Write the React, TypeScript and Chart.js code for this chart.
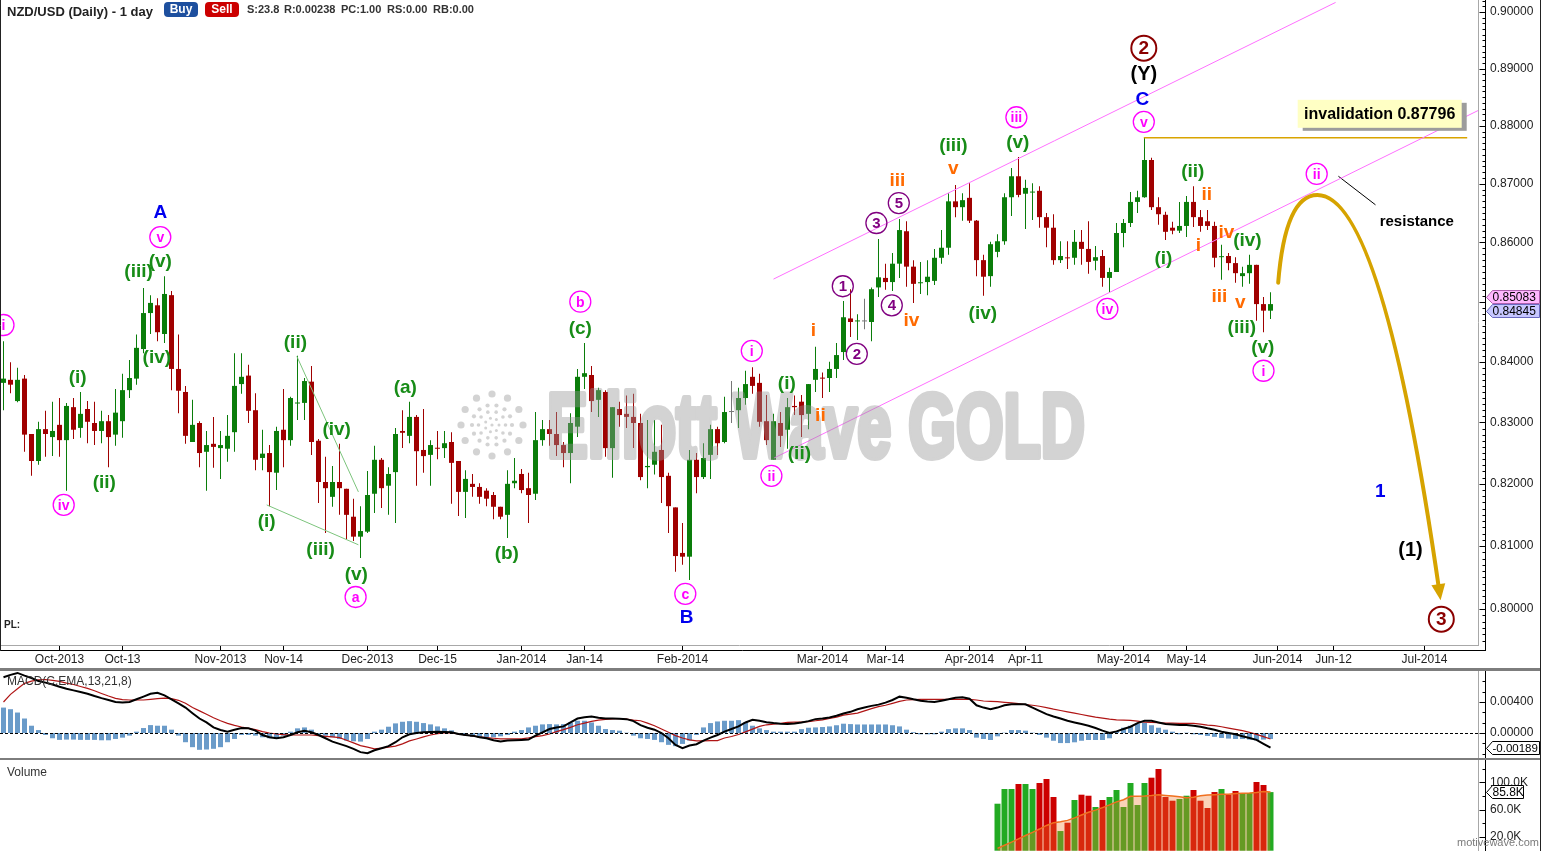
import React, { useEffect, useRef } from 'react';
import Chart from 'chart.js/auto';

const FONT = '"Liberation Sans", Arial, Helvetica, sans-serif';
const GREEN = '#0a7d0a';
const RED = '#a00000';
const GRAY = '#777777';

// ---- daily candles NZD/USD (trading days from 19 Sep 2013 to 30 May 2014) ----
const open = [
  0.8365, 0.8370, 0.8335, 0.8372, 0.8281, 0.8237, 0.8289, 0.8276, 0.8296, 0.8271,
  0.8325, 0.8291, 0.8322, 0.8299, 0.8286, 0.8302, 0.8280, 0.8302, 0.8353, 0.8372,
  0.8421, 0.8481, 0.8494, 0.8446, 0.8511, 0.8388, 0.8350, 0.8268, 0.8299, 0.8252,
  0.8265, 0.8258, 0.8257, 0.8284, 0.8363, 0.8377, 0.8320, 0.8242, 0.8250, 0.8218,
  0.8288, 0.8271, 0.8331, 0.8332, 0.8367, 0.8270, 0.8203, 0.8179, 0.8203, 0.8192,
  0.8147, 0.8115, 0.8123, 0.8184, 0.8239, 0.8197, 0.8219, 0.8286, 0.8278, 0.8309,
  0.8255, 0.8247, 0.8258, 0.8258, 0.8268, 0.8237, 0.8187, 0.8200, 0.8195, 0.8189,
  0.8182, 0.8163, 0.8150, 0.8201, 0.8216, 0.8193, 0.8184, 0.8271, 0.8289, 0.8281,
  0.8263, 0.8250, 0.8293, 0.8375, 0.8378, 0.8337, 0.8350, 0.8258, 0.8322, 0.8314,
  0.8309, 0.8299, 0.8227, 0.8231, 0.8255, 0.8213, 0.8162, 0.8089, 0.8083, 0.8239,
  0.8211, 0.8247, 0.8289, 0.8268, 0.8317, 0.8320, 0.8340, 0.8375, 0.8365, 0.8302,
  0.8239, 0.8299, 0.8288, 0.8327, 0.8334, 0.8314, 0.8370, 0.8373, 0.8373, 0.8388,
  0.8416, 0.8472, 0.8467, 0.8467, 0.8466, 0.8524, 0.8540, 0.8533, 0.8564, 0.8619,
  0.8559, 0.8531, 0.8533, 0.8535, 0.8574, 0.8591, 0.8670, 0.8660, 0.8676, 0.8637,
  0.8570, 0.8543, 0.8584, 0.8602, 0.8677, 0.8713, 0.8683, 0.8685, 0.8688, 0.8643,
  0.8625, 0.8570, 0.8574, 0.8574, 0.8601, 0.8589, 0.8569, 0.8577, 0.8540, 0.8550,
  0.8616, 0.8633, 0.8669, 0.8677, 0.8741, 0.8660, 0.8647, 0.8625, 0.8620, 0.8628,
  0.8669, 0.8643, 0.8636, 0.8628, 0.8575, 0.8577, 0.8565, 0.8543, 0.8548, 0.8562,
  0.8496, 0.8485,
];
const high = [
  0.8434, 0.8399, 0.8390, 0.8378, 0.8281, 0.8301, 0.8319, 0.8334, 0.8340, 0.8332,
  0.8340, 0.8350, 0.8335, 0.8334, 0.8319, 0.8312, 0.8355, 0.8380, 0.8403, 0.8445,
  0.8523, 0.8511, 0.8506, 0.8543, 0.8518, 0.8445, 0.8360, 0.8337, 0.8302, 0.8286,
  0.8309, 0.8286, 0.8312, 0.8414, 0.8414, 0.8395, 0.8348, 0.8288, 0.8263, 0.8293,
  0.8355, 0.8342, 0.8410, 0.8373, 0.8393, 0.8273, 0.8244, 0.8229, 0.8265, 0.8192,
  0.8176, 0.8164, 0.8221, 0.8262, 0.8242, 0.8227, 0.8291, 0.8320, 0.8334, 0.8312,
  0.8322, 0.8271, 0.8286, 0.8286, 0.8284, 0.8237, 0.8222, 0.8216, 0.8201, 0.8193,
  0.8187, 0.8163, 0.8222, 0.8242, 0.8224, 0.8218, 0.8317, 0.8304, 0.8304, 0.8317,
  0.8268, 0.8315, 0.8388, 0.8431, 0.8393, 0.8357, 0.8353, 0.8325, 0.8334, 0.8344,
  0.8347, 0.8314, 0.8304, 0.8304, 0.8296, 0.8218, 0.8162, 0.8137, 0.8255, 0.8250,
  0.8266, 0.8296, 0.8293, 0.8342, 0.8368, 0.8357, 0.8385, 0.8391, 0.8380, 0.8345,
  0.8314, 0.8317, 0.8340, 0.8344, 0.8345, 0.8363, 0.8425, 0.8382, 0.8400, 0.8431,
  0.8501, 0.8521, 0.8479, 0.8505, 0.8524, 0.8606, 0.8564, 0.8582, 0.8640, 0.8636,
  0.8570, 0.8567, 0.8570, 0.8589, 0.8621, 0.8684, 0.8698, 0.8684, 0.8701, 0.8638,
  0.8579, 0.8601, 0.8614, 0.8684, 0.8727, 0.8746, 0.8707, 0.8701, 0.8696, 0.8650,
  0.8648, 0.8602, 0.8602, 0.8621, 0.8621, 0.8636, 0.8594, 0.8587, 0.8557, 0.8633,
  0.8640, 0.8686, 0.8688, 0.87796, 0.8745, 0.8677, 0.8652, 0.8635, 0.8669, 0.8679,
  0.8696, 0.8655, 0.8655, 0.8635, 0.8596, 0.8582, 0.8575, 0.8559, 0.8579, 0.8562,
  0.8508, 0.8516,
];
const low = [
  0.8320, 0.8348, 0.8333, 0.8252, 0.8213, 0.8231, 0.8244, 0.8245, 0.8244, 0.8189,
  0.8273, 0.8275, 0.8266, 0.8263, 0.8266, 0.8227, 0.8262, 0.8275, 0.8340, 0.8362,
  0.8414, 0.8446, 0.8434, 0.8431, 0.8353, 0.8315, 0.8265, 0.8268, 0.8227, 0.8189,
  0.8226, 0.8208, 0.8236, 0.8252, 0.8347, 0.8299, 0.8222, 0.8222, 0.8164, 0.8190,
  0.8227, 0.8262, 0.8304, 0.8304, 0.8247, 0.8169, 0.8121, 0.8163, 0.8150, 0.8111,
  0.8108, 0.8081, 0.8121, 0.8153, 0.8161, 0.8150, 0.8137, 0.8258, 0.8266, 0.8197,
  0.8218, 0.8197, 0.8240, 0.8242, 0.8168, 0.8148, 0.8145, 0.8179, 0.8168, 0.8164,
  0.8143, 0.8143, 0.8113, 0.8193, 0.8185, 0.8137, 0.8174, 0.8262, 0.8262, 0.8245,
  0.8227, 0.8201, 0.8276, 0.8355, 0.8317, 0.8309, 0.8244, 0.8210, 0.8293, 0.8291,
  0.8258, 0.8206, 0.8193, 0.8215, 0.8169, 0.8121, 0.8059, 0.8070, 0.8046, 0.8185,
  0.8208, 0.8208, 0.8247, 0.8266, 0.8299, 0.8291, 0.8329, 0.8347, 0.8293, 0.8263,
  0.8239, 0.8260, 0.8257, 0.8312, 0.8276, 0.8289, 0.8350, 0.8340, 0.8350, 0.8373,
  0.8403, 0.8441, 0.8436, 0.8454, 0.8434, 0.8508, 0.8520, 0.8518, 0.8540, 0.8525,
  0.8498, 0.8513, 0.8511, 0.8528, 0.8564, 0.8579, 0.8643, 0.8637, 0.8633, 0.8543,
  0.8510, 0.8525, 0.8575, 0.8596, 0.8645, 0.8677, 0.8623, 0.8638, 0.8625, 0.8592,
  0.8562, 0.8565, 0.8555, 0.8562, 0.8562, 0.8547, 0.8553, 0.8525, 0.8516, 0.8550,
  0.8592, 0.8626, 0.8650, 0.8676, 0.8655, 0.8630, 0.8604, 0.8614, 0.8616, 0.8609,
  0.8626, 0.8618, 0.8621, 0.8558, 0.8537, 0.8553, 0.8532, 0.8525, 0.8530, 0.8468,
  0.8449, 0.8471,
];
const close = [
  0.8372, 0.8362, 0.8370, 0.8280, 0.8237, 0.8289, 0.8281, 0.8286, 0.8271, 0.8327,
  0.8288, 0.8314, 0.8301, 0.8286, 0.8302, 0.8276, 0.8316, 0.8353, 0.8373, 0.8423,
  0.8481, 0.8498, 0.8449, 0.8513, 0.8388, 0.8352, 0.8278, 0.8296, 0.8250, 0.8263,
  0.8260, 0.8263, 0.8278, 0.8360, 0.8375, 0.8319, 0.8239, 0.8249, 0.8219, 0.8286,
  0.8271, 0.8340, 0.8332, 0.8368, 0.8268, 0.8203, 0.8193, 0.8203, 0.8193, 0.8150,
  0.8115, 0.8124, 0.8182, 0.8239, 0.8193, 0.8216, 0.8281, 0.8283, 0.8309, 0.8253,
  0.8245, 0.8263, 0.8257, 0.8266, 0.8234, 0.8187, 0.8208, 0.8195, 0.8179, 0.8176,
  0.8163, 0.8147, 0.8200, 0.8205, 0.8190, 0.8182, 0.8271, 0.8289, 0.8281, 0.8263,
  0.8250, 0.8299, 0.8375, 0.8381, 0.8335, 0.8353, 0.8258, 0.8325, 0.8312, 0.8309,
  0.8299, 0.8211, 0.8229, 0.8252, 0.8211, 0.8164, 0.8084, 0.8083, 0.8239, 0.8211,
  0.8242, 0.8289, 0.8266, 0.8317, 0.8317, 0.8340, 0.8363, 0.8360, 0.8301, 0.8271,
  0.8302, 0.8278, 0.8325, 0.8325, 0.8312, 0.8363, 0.8388, 0.8372, 0.8388, 0.8411,
  0.8474, 0.8466, 0.8468, 0.8467, 0.8521, 0.8541, 0.8533, 0.8564, 0.8621, 0.8559,
  0.8530, 0.8532, 0.8542, 0.8574, 0.8591, 0.8670, 0.8660, 0.8672, 0.8637, 0.8570,
  0.8542, 0.8597, 0.8602, 0.8677, 0.8713, 0.8681, 0.8693, 0.8686, 0.8643, 0.8625,
  0.8570, 0.8577, 0.8573, 0.8601, 0.8589, 0.8567, 0.8575, 0.8540, 0.8550, 0.8616,
  0.8633, 0.8669, 0.8677, 0.8741, 0.8660, 0.8648, 0.8618, 0.8620, 0.8628, 0.8669,
  0.8643, 0.8628, 0.8628, 0.8574, 0.8576, 0.8565, 0.8548, 0.8548, 0.8562, 0.8496,
  0.8485, 0.8496,
];

// ---- MACD(C,EMA,13,21,8) ----
const macdLine = [
  0.0072, 0.0075, 0.00775, 0.0074, 0.0071, 0.0067, 0.0065, 0.00626, 0.00596, 0.0057,
  0.0055, 0.0053, 0.00507, 0.00477, 0.0045, 0.00426, 0.0040, 0.00392, 0.0040, 0.00435,
  0.0047, 0.00507, 0.0052, 0.00486, 0.00435, 0.00383, 0.00328, 0.00256, 0.00187, 0.00136,
  0.00072, 0.00038, 0.00017, 0.00043, 0.00064, 0.0006, 0.0003, -0.00026, -0.00055, -0.00068,
  -0.00055, -0.00026, 0.00009, 0.0003, 0.00009, -0.00026, -0.00068, -0.00111, -0.0014, -0.0017,
  -0.00204, -0.00247, -0.0026, -0.00222, -0.00196, -0.0017, -0.00119, -0.00055, -0.00017, 0,
  0.00009, 0.00013, 0.00017, 0.00013, 0.00009, -0.00013, -0.00026, -0.00034, -0.00055, -0.00068,
  -0.00094, -0.00111, -0.00098, -0.00094, -0.00089, -0.00085, -0.00034, 0.00009, 0.00051, 0.00072,
  0.00085, 0.00136, 0.00187, 0.00204, 0.00213, 0.00196, 0.00187, 0.00187, 0.00183, 0.00179,
  0.00153, 0.00102, 0.00068, 0.00043, 0, -0.00068, -0.00153, -0.00196, -0.00162, -0.00145,
  -0.00098, -0.0006, -0.00026, 0.00017, 0.00051, 0.00085, 0.00136, 0.0017, 0.00158, 0.0014,
  0.00128, 0.00119, 0.00115, 0.00124, 0.00136, 0.00153, 0.00179, 0.00187, 0.002, 0.00222,
  0.00251, 0.00273, 0.00307, 0.00328, 0.0035, 0.00366, 0.00392, 0.00426, 0.00469, 0.00456,
  0.00435, 0.00417, 0.00405, 0.004, 0.00417, 0.00435, 0.00456, 0.0046, 0.00443, 0.00358,
  0.00328, 0.00307, 0.00328, 0.00358, 0.0037, 0.0037, 0.0037, 0.00328, 0.00285, 0.00243,
  0.00213, 0.00187, 0.00158, 0.00136, 0.00115, 0.00094, 0.00064, 0.0003, 0, 0.00021,
  0.00051, 0.00081, 0.00128, 0.00158, 0.00158, 0.00136, 0.00115, 0.00111, 0.00102, 0.00102,
  0.00094, 0.00081, 0.0006, 0.00043, 0.00017, 0, -0.00017, -0.00043, -0.00064, -0.00089,
  -0.0014, -0.00189,
];
const signalLine = [
  0.0040, 0.00498, 0.0057, 0.0064, 0.0067, 0.00686, 0.0069, 0.0068, 0.00665, 0.00643,
  0.00626, 0.006, 0.00575, 0.00545, 0.0051, 0.00477, 0.00447, 0.0043, 0.00426, 0.00426,
  0.00426, 0.00435, 0.00443, 0.0045, 0.00443, 0.00422, 0.00383, 0.00328, 0.00285, 0.00243,
  0.00196, 0.00158, 0.00124, 0.00098, 0.00077, 0.0006, 0.00043, 0.00017, 0, -0.00013,
  -0.00021, -0.00026, -0.00026, -0.00026, -0.00026, -0.00034, -0.00043, -0.00051, -0.0006, -0.00094,
  -0.00128, -0.00162, -0.00183, -0.00204, -0.00196, -0.00183, -0.0017, -0.0014, -0.00102, -0.00077,
  -0.00051, -0.00026, -0.00009, 0, 0, -0.00013, -0.00026, -0.00038, -0.00051, -0.0006,
  -0.00068, -0.00077, -0.00077, -0.00077, -0.00077, -0.00064, -0.00047, -0.00034, -0.00013, 0.00017,
  0.00043, 0.00072, 0.00106, 0.00128, 0.00149, 0.00166, 0.00175, 0.00183, 0.00187, 0.00179,
  0.00166, 0.00158, 0.00128, 0.00094, 0.00051, 0.00009, -0.00034, -0.00064, -0.00089, -0.00102,
  -0.00102, -0.00098, -0.00098, -0.00065, -0.00045, -0.0002, 0.00015, 0.0005, 0.00085, 0.00106,
  0.00115, 0.00124, 0.00136, 0.0014, 0.0014, 0.00145, 0.00158, 0.0017, 0.00187, 0.00204,
  0.0023, 0.00243, 0.00256, 0.00285, 0.00315, 0.0034, 0.00358, 0.00383, 0.00409, 0.00426,
  0.0043, 0.00435, 0.00435, 0.00435, 0.00435, 0.00435, 0.00435, 0.00435, 0.00435, 0.00426,
  0.00413, 0.00409, 0.00405, 0.00396, 0.00388, 0.00379, 0.00366, 0.00358, 0.00345, 0.00328,
  0.00307, 0.0029, 0.00273, 0.00256, 0.00239, 0.00222, 0.00204, 0.00192, 0.00179, 0.0017,
  0.00166, 0.00162, 0.00153, 0.0014, 0.00136, 0.00132, 0.00128, 0.00128, 0.00124, 0.00124,
  0.00124, 0.00115, 0.00102, 0.00094, 0.00081, 0.00064, 0.00047, 0.0003, 0.00009, -0.00017,
  -0.00047, -0.00077,
];
const macdHist = [
  0.00328, 0.00307, 0.00264, 0.00187, 0.00094, 0.00038, -0.00026, -0.00068, -0.00089, -0.00085,
  -0.00085, -0.00089, -0.00089, -0.00089, -0.00094, -0.00094, -0.00077, -0.0006, -0.00034, 0.00017,
  0.00064, 0.00102, 0.00094, 0.00094, 0.00043, -0.00034, -0.00119, -0.00183, -0.00217, -0.00213,
  -0.00204, -0.00183, -0.00119, -0.00077, -0.00026, -0.00026, -0.00034, -0.00055, -0.00068, -0.00068,
  -0.00034, 0.00017, 0.0006, 0.00072, 0.00043, -0.00026, -0.00034, -0.00055, -0.00077, -0.00098,
  -0.00107, -0.00111, -0.00077, 0.00017, 0.00043, 0.00081, 0.00124, 0.00145, 0.00153, 0.00145,
  0.00128, 0.00111, 0.00085, 0.0006, 0.00034, -0.00017, -0.00034, -0.00051, -0.0006, -0.0006,
  -0.00055, -0.00043, -0.00026, 0.00017, 0.00038, 0.00072, 0.00094, 0.00111, 0.00115, 0.00111,
  0.00115, 0.00136, 0.00158, 0.00158, 0.00136, 0.00094, 0.00051, 0.00038, 0.0003, 0.00004,
  -0.00034, -0.00068, -0.00077, -0.00089, -0.00119, -0.00153, -0.0017, -0.00141, -0.00098, -0.00026,
  0.00072, 0.00128, 0.00149, 0.00158, 0.00158, 0.00166, 0.00136, 0.00094, 0.0006, 0.00038,
  0.00017, 0.00017, 0.00017, 0.00017, 0.0005, 0.00068, 0.00072, 0.00077, 0.00085, 0.001,
  0.0012, 0.00115, 0.0011, 0.0011, 0.0011, 0.0011, 0.0011, 0.001, 0.00085, 0.00043,
  0.0001, -0.00017, -0.00017, -0.00017, 0.00017, 0.0005, 0.0006, 0.0006, 0.00038, -0.0006,
  -0.00077, -0.0009, -0.00043, 0.00004, 0.00038, 0.00038, 0.0003, 0.00004, -0.00026, -0.0006,
  -0.001, -0.0013, -0.0013, -0.0012, -0.001, -0.0009, -0.0009, -0.0009, -0.00068, 0.00026,
  0.00068, 0.00094, 0.0012, 0.0013, 0.001, 0.00068, 0.00043, 0.00017, -0.00017, 0.00004,
  -0.00017, -0.00026, -0.00038, -0.0005, -0.00064, -0.00072, -0.00077, -0.00077, -0.00085, -0.00094,
  -0.00085, -0.00077,
];

// ---- Volume (available from trading day 142 onwards) ----
const volumeStartDay = 142;
const volume = [
  68800, 90300, 90300, 97700, 97700, 90300, 99100, 105000, 78600, 28800,
  41000, 74200, 82000, 80500, 64000, 74200, 78600, 88900, 64000, 99100,
  66900, 99100, 106900, 119600, 78600, 73200, 75700, 80500, 88900, 73200,
  62500, 85900, 90300, 82000, 87400, 84500, 84500, 100600, 96200, 85800,
];
const volumeAvg = [
  3400, 8000, 12500, 17400, 22200, 26800, 31700, 37000, 40900, 42300,
  44400, 48100, 52200, 56200, 59400, 63100, 67100, 71500, 74700, 79700,
  79600, 80000, 80800, 81900, 80900, 80100, 78900, 77700, 78200, 80400,
  81500, 82100, 82500, 82600, 83700, 84200, 84500, 85100, 86700, 86000,
];

// ---- axes ----
const xTickIndex = [8, 17, 31, 40, 52, 62, 74, 83, 97, 117, 126, 138, 146, 160, 169, 182, 190, 203];
const xTickLabels = ['Oct-2013', 'Oct-13', 'Nov-2013', 'Nov-14', 'Dec-2013', 'Dec-15', 'Jan-2014', 'Jan-14', 'Feb-2014',
  'Mar-2014', 'Mar-14', 'Apr-2014', 'Apr-11', 'May-2014', 'May-14', 'Jun-2014', 'Jun-12', 'Jul-2014'];
const priceTicks = [0.80, 0.81, 0.82, 0.83, 0.84, 0.86, 0.87, 0.88, 0.89, 0.90];
const priceMajor = [0.80, 0.81, 0.82, 0.83, 0.84, 0.85, 0.86, 0.87, 0.88, 0.89, 0.90];
const macdTicks = [0.004, 0];
const volTicks = [20000, 60000, 100000];
const volMinorTicks = [40000, 80000, 120000];

const X_MIN = -0.5;
const X_MAX = 210.643;
const P_MIN = 0.79434;
const P_MAX = 0.90213;
const MACD_MIN = -0.003226;
const MACD_MAX = 0.0080;
const VOL_MIN = -440;
const VOL_MAX = 132800;

// ---- wave count annotations: [day index, price, text, style] ----
const waveLabels = [
  [0, 0.8461, 'i', 'mc'], [22.4, 0.8609, 'v', 'mc'], [8.6, 0.8166, 'iv', 'mc'], [50.3, 0.8019, 'a', 'mc'],
  [82.4, 0.8500, 'b', 'mc'], [97.4, 0.8024, 'c', 'mc'], [106.9, 0.8418, 'i', 'mc'], [109.7, 0.8213, 'ii', 'mc'],
  [144.7, 0.8815, 'iii', 'mc'], [157.7, 0.8488, 'iv', 'mc'], [162.9, 0.8807, 'v', 'mc'], [187.6, 0.8717, 'ii', 'mc'],
  [180.0, 0.8385, 'i', 'mc'],
  [22.4, 0.8652, 'A', 'b'], [97.6, 0.7987, 'B', 'b'], [162.7, 0.8848, 'C', 'b'], [196.7, 0.8189, '1', 'b'],
  [10.6, 0.8375, '(i)', 'g'], [19.3, 0.8552, '(iii)', 'g'], [22.4, 0.8569, '(v)', 'g'], [21.9, 0.8408, '(iv)', 'g'],
  [14.4, 0.8203, '(ii)', 'g'], [41.7, 0.8433, '(ii)', 'g'], [47.6, 0.8289, '(iv)', 'g'], [37.6, 0.8140, '(i)', 'g'],
  [45.3, 0.8095, '(iii)', 'g'], [50.4, 0.8056, '(v)', 'g'], [57.4, 0.8358, '(a)', 'g'], [71.9, 0.8090, '(b)', 'g'],
  [82.4, 0.8456, '(c)', 'g'], [111.9, 0.8365, '(i)', 'g'], [113.7, 0.8250, '(ii)', 'g'], [135.7, 0.8767, '(iii)', 'g'],
  [144.9, 0.8772, '(v)', 'g'], [139.9, 0.8481, '(iv)', 'g'], [169.9, 0.8722, '(ii)', 'g'], [165.7, 0.8574, '(i)', 'g'],
  [177.7, 0.8604, '(iv)', 'g'], [176.9, 0.8458, '(iii)', 'g'], [179.9, 0.8424, '(v)', 'g'],
  [115.7, 0.8453, 'i', 'o'], [116.7, 0.8312, 'ii', 'o'], [127.7, 0.8707, 'iii', 'o'], [129.7, 0.8469, 'iv', 'o'],
  [135.7, 0.8727, 'v', 'o'], [171.9, 0.8683, 'ii', 'o'], [170.7, 0.8596, 'i', 'o'], [174.7, 0.8618, 'iv', 'o'],
  [173.7, 0.8510, 'iii', 'o'], [176.7, 0.8500, 'v', 'o'],
  [119.9, 0.8526, '1', 'pc'], [121.9, 0.8413, '2', 'pc'], [124.7, 0.8633, '3', 'pc'], [126.9, 0.8494, '4', 'pc'],
  [127.9, 0.8667, '5', 'pc'],
  [162.9, 0.8936, '2', 'rc'], [205.4, 0.7984, '3', 'rc'],
  [162.9, 0.8891, '(Y)', 'k'], [201.0, 0.8094, '(1)', 'k'],
];
const LABEL_STYLES = {
  mc: { color: '#ff00ff', size: 14, r: 10.5, lw: 1.3 },
  pc: { color: '#800080', size: 15, r: 10.5, lw: 1.3 },
  rc: { color: '#8b0000', size: 19, r: 12.5, lw: 2 },
  g: { color: '#178c17', size: 19 },
  o: { color: '#ff6a00', size: 19 },
  b: { color: '#0000ee', size: 19 },
  k: { color: '#000000', size: 20 },
};

const channelUpper = [{ x: 110, y: 0.8538 }, { x: 190.3, y: 0.9017 }];
const channelLower = [{ x: 110.1, y: 0.8242 }, { x: 210.7, y: 0.8827 }];
const triangleUpper = [{ x: 41.9, y: 0.8409 }, { x: 50.7, y: 0.8187 }];
const triangleLower = [{ x: 37.6, y: 0.8166 }, { x: 50.7, y: 0.8102 }];
const invalidationLevel = 0.87796;
const invalidationLine = [{ x: 162.9, y: invalidationLevel }, { x: 209.1, y: invalidationLevel }];
const resistancePointer = [{ x: 190.7, y: 0.8713 }, { x: 196.0, y: 0.8664 }];
// projected path: start, control, peak, control, target
const projection = [[182.1, 0.8532], [183.1, 0.8681], [187.7, 0.8681], [197.0, 0.8681], [205.3, 0.8014]];
const lastMarkers = [
  { v: 0.85083, bg: '#ffb8ff', border: '#b060b0' },
  { v: 0.84845, bg: '#c6c6ff', border: '#6a6ac0' },
];

Chart.defaults.font.family = FONT;

function drawTag(ctx, x0, yc, text, bg, border, w, size = 12) {
  ctx.beginPath();
  ctx.moveTo(x0, yc);
  ctx.lineTo(x0 + 6, yc - 7);
  ctx.lineTo(x0 + w, yc - 7);
  ctx.lineTo(x0 + w, yc + 6);
  ctx.lineTo(x0 + 6, yc + 6);
  ctx.closePath();
  ctx.fillStyle = bg;
  ctx.fill();
  ctx.strokeStyle = border;
  ctx.lineWidth = 1;
  ctx.stroke();
  ctx.fillStyle = '#000';
  ctx.font = `${size}px ${FONT}`;
  ctx.textAlign = 'left';
  ctx.textBaseline = 'middle';
  ctx.fillText(text, x0 + 6, yc);
}

function axisPlugin(id, majors, minors, withX) {
  return {
    id,
    afterDraw(chart) {
      const { ctx, chartArea: a } = chart;
      const ys = chart.scales.y;
      ctx.save();
      ctx.lineWidth = 1;
      ctx.strokeStyle = '#a8a8a8';
      ctx.beginPath();
      ctx.moveTo(a.right + 0.5, a.top);
      ctx.lineTo(a.right + 0.5, a.bottom);
      ctx.stroke();
      const ax = a.right + 7.5;
      ctx.strokeStyle = '#000';
      ctx.beginPath();
      ctx.moveTo(ax, a.top);
      ctx.lineTo(ax, a.bottom + (withX ? 6 : 0));
      ctx.stroke();
      ctx.beginPath();
      majors.forEach((v) => {
        const py = Math.round(ys.getPixelForValue(v)) + 0.5;
        ctx.moveTo(ax - 6, py);
        ctx.lineTo(ax, py);
      });
      minors.forEach((v) => {
        const py = Math.round(ys.getPixelForValue(v)) + 0.5;
        ctx.moveTo(ax - 3, py);
        ctx.lineTo(ax, py);
      });
      ctx.stroke();
      if (withX) {
        const xs = chart.scales.x;
        ctx.strokeStyle = '#a8a8a8';
        ctx.beginPath();
        ctx.moveTo(a.left, a.bottom + 0.5);
        ctx.lineTo(a.right + 1, a.bottom + 0.5);
        ctx.stroke();
        ctx.strokeStyle = '#000';
        ctx.beginPath();
        ctx.moveTo(a.left, a.bottom + 5.5);
        ctx.lineTo(ax, a.bottom + 5.5);
        xTickIndex.forEach((v) => {
          const px = Math.round(xs.getPixelForValue(v)) + 0.5;
          ctx.moveTo(px, a.bottom + 1);
          ctx.lineTo(px, a.bottom + 5);
        });
        ctx.stroke();
        ctx.strokeStyle = '#222';
        ctx.beginPath();
        ctx.moveTo(0.5, a.top);
        ctx.lineTo(0.5, a.bottom + 6);
        ctx.stroke();
      }
      ctx.restore();
    },
  };
}

const mainDecor = {
  id: 'mainDecor',
  afterDatasetsDraw(chart) {
    const { ctx, chartArea: a } = chart;
    const xs = chart.scales.x;
    const ys = chart.scales.y;
    const P = (i, p) => [xs.getPixelForValue(i), ys.getPixelForValue(p)];
    ctx.save();
    ctx.beginPath();
    ctx.rect(a.left, a.top, a.right - a.left, a.bottom - a.top);
    ctx.clip();

    // watermark logo + text, rendered opaque off-screen then blended once
    const off = document.createElement('canvas');
    off.width = 700;
    off.height = 140;
    const oc = off.getContext('2d');
    if (oc) {
      oc.fillStyle = 'rgb(150,150,150)';
      const lx = 52, ly = 70;
      const rings = [[31, 12, 3.6], [20, 14, 2.1], [13.5, 10, 1.8], [7, 7, 1.5], [0, 1, 1.6]];
      rings.forEach(([r, n, dr]) => {
        for (let k = 0; k < n; k++) {
          const t = (k / n) * Math.PI * 2;
          oc.beginPath();
          oc.arc(lx + r * Math.cos(t), ly + r * Math.sin(t), dr, 0, Math.PI * 2);
          oc.fill();
        }
      });
      oc.font = `bold 90px ${FONT}`;
      const wm = 'Elliott Wave GOLD';
      const w = oc.measureText(wm).width;
      oc.save();
      oc.translate(107, 102);
      oc.scale(538 / w, 1);
      oc.strokeStyle = 'rgb(150,150,150)';
      oc.lineWidth = 6;
      oc.lineJoin = 'round';
      oc.textAlign = 'left';
      oc.textBaseline = 'alphabetic';
      oc.strokeText(wm, 0, 0);
      oc.fillText(wm, 0, 0);
      oc.restore();
      ctx.save();
      ctx.globalAlpha = 0.42;
      ctx.drawImage(off, a.left + 440, a.top + 355);
      ctx.restore();
    }

    // projected path
    const [p0, c0, p1, c1, p2] = projection.map(([i, p]) => P(i, p));
    let dx = p2[0] - c1[0], dy = p2[1] - c1[1];
    const dl = Math.hypot(dx, dy);
    dx /= dl; dy /= dl;
    const ex = p2[0] - dx * 10, ey = p2[1] - dy * 10;
    ctx.strokeStyle = '#d6a300';
    ctx.lineWidth = 4;
    ctx.lineCap = 'round';
    ctx.beginPath();
    ctx.moveTo(p0[0], p0[1]);
    ctx.quadraticCurveTo(c0[0], c0[1], p1[0], p1[1]);
    ctx.quadraticCurveTo(c1[0], c1[1], ex, ey);
    ctx.stroke();
    ctx.fillStyle = '#d6a300';
    ctx.beginPath();
    ctx.moveTo(p2[0], p2[1]);
    ctx.lineTo(p2[0] - dx * 16 - dy * 7, p2[1] - dy * 16 + dx * 7);
    ctx.lineTo(p2[0] - dx * 16 + dy * 7, p2[1] - dy * 16 - dx * 7);
    ctx.closePath();
    ctx.fill();

    // invalidation box
    const [bx, by] = P(196.6, 0.8821);
    const bw = 164, bh = 28;
    ctx.fillStyle = '#9c9c9c';
    ctx.fillRect(bx - bw / 2 + 5, by - bh / 2 + 3, bw, bh);
    ctx.fillStyle = '#ffffc4';
    ctx.fillRect(bx - bw / 2, by - bh / 2, bw, bh);
    ctx.fillStyle = '#000';
    ctx.font = `bold 16px ${FONT}`;
    ctx.textAlign = 'center';
    ctx.textBaseline = 'middle';
    ctx.fillText('invalidation 0.87796', bx, by + 1);

    // resistance
    const [rx, ry] = P(201.9, 0.8635);
    ctx.font = `bold 15px ${FONT}`;
    ctx.fillText('resistance', rx, ry);

    // wave labels
    waveLabels.forEach(([i, p, t, s]) => {
      const st = LABEL_STYLES[s];
      const [px, py] = P(i, p);
      if (st.r) {
        ctx.beginPath();
        ctx.arc(px, py, st.r, 0, Math.PI * 2);
        ctx.strokeStyle = st.color;
        ctx.lineWidth = st.lw;
        ctx.stroke();
      }
      ctx.fillStyle = st.color;
      ctx.font = `bold ${st.size}px ${FONT}`;
      ctx.textAlign = 'center';
      ctx.textBaseline = 'middle';
      ctx.fillText(t, px, py + 1);
    });
    ctx.restore();

    // price tags
    ctx.save();
    lastMarkers.forEach((m) => {
      const yc = Math.round(ys.getPixelForValue(m.v)) + 0.5;
      drawTag(ctx, a.right + 8.5, yc, m.v.toFixed(5), m.bg, m.border, 53);
    });
    ctx.restore();
  },
};

const macdDecor = {
  id: 'macdDecor',
  afterDatasetsDraw(chart) {
    const { ctx, chartArea: a } = chart;
    const ys = chart.scales.y;
    ctx.save();
    const y0 = Math.round(ys.getPixelForValue(0)) + 0.5;
    ctx.strokeStyle = '#000';
    ctx.lineWidth = 1;
    ctx.setLineDash([3, 2]);
    ctx.beginPath();
    ctx.moveTo(a.left, y0);
    ctx.lineTo(a.right, y0);
    ctx.stroke();
    ctx.setLineDash([]);
    const last = macdLine[macdLine.length - 1];
    drawTag(ctx, a.right + 8.5, Math.round(ys.getPixelForValue(last)) + 0.5, last.toFixed(5), '#ffffff', '#000', 53, 11.5);
    ctx.restore();
  },
};

const volDecor = {
  id: 'volDecor',
  afterDatasetsDraw(chart) {
    const { ctx, chartArea: a } = chart;
    const ys = chart.scales.y;
    ctx.save();
    const lastVol = volume[volume.length - 1];
    drawTag(ctx, a.right + 8.5, Math.round(ys.getPixelForValue(lastVol)) + 0.5, (lastVol / 1000).toFixed(1) + 'K', '#ffffff', '#000', 37);
    ctx.restore();
  },
};

function xScale(display) {
  return {
    type: 'linear',
    min: X_MIN,
    max: X_MAX,
    bounds: 'data',
    offset: false,
    display,
    grid: { display: false, drawTicks: false },
    border: { display: false },
    ticks: {
      autoSkip: false,
      maxRotation: 0,
      minRotation: 0,
      padding: 7,
      color: '#222',
      font: { family: FONT, size: 12 },
      callback: (v) => {
        const k = xTickIndex.indexOf(v);
        return k >= 0 ? xTickLabels[k] : '';
      },
    },
    afterBuildTicks: (s) => {
      s.ticks = xTickIndex.map((v) => ({ value: v }));
    },
    afterFit: (s) => {
      s.height = display ? 26 : 0;
      s.paddingLeft = 0;
      s.paddingRight = 0;
    },
  };
}

function yScale(type, min, max, ticks, fmt) {
  return {
    type,
    position: 'right',
    min,
    max,
    bounds: 'data',
    grid: { display: false, drawTicks: false },
    border: { display: false },
    ticks: {
      padding: 12,
      color: '#222',
      font: { family: FONT, size: 12 },
      autoSkip: false,
      callback: (v) => fmt(v),
    },
    afterBuildTicks: (s) => {
      s.ticks = ticks.map((v) => ({ value: v }));
    },
    afterFit: (s) => {
      s.width = 63;
      s.paddingTop = 0;
      s.paddingBottom = 0;
    },
  };
}

const baseOptions = (scales) => ({
  responsive: false,
  animation: false,
  devicePixelRatio: 1,
  events: [],
  layout: { padding: 0 },
  plugins: { legend: { display: false }, tooltip: { enabled: false } },
  scales,
});

function lineDs(data, color, width, order) {
  return { type: 'line', data, borderColor: color, borderWidth: width, pointRadius: 0, fill: false, tension: 0, order };
}

export default function App() {
  const mainRef = useRef(null);
  const macdRef = useRef(null);
  const volRef = useRef(null);

  useEffect(() => {
    const candleColor = open.map((o, k) => (close[k] > o ? GREEN : close[k] < o ? RED : GRAY));
    const bodies = open.map((o, k) => ({ x: k, y: [o, close[k]] }));
    const wicks = open.map((o, k) => ({ x: k, y: [low[k], high[k]] }));

    const minorPrice = [];
    for (let v = 0.795; v < 0.9025; v += 0.001) {
      const r = Math.round(v * 1000) / 1000;
      if (Math.abs(r * 100 - Math.round(r * 100)) > 1e-6) minorPrice.push(r);
    }

    const main = new Chart(mainRef.current, {
      type: 'bar',
      data: {
        datasets: [
          lineDs(channelUpper, '#ff70ff', 1, 1),
          lineDs(channelLower, '#ff70ff', 1, 1),
          lineDs(triangleUpper, '#7cc47c', 1, 1),
          lineDs(triangleLower, '#7cc47c', 1, 1),
          lineDs(invalidationLine, '#d9a400', 1.5, 1),
          lineDs(resistancePointer, '#000000', 1, 1),
          { type: 'bar', data: bodies, backgroundColor: candleColor, barThickness: 5, minBarLength: 1, grouped: false, inflateAmount: 0, order: 5 },
          { type: 'bar', data: wicks, backgroundColor: candleColor, barThickness: 1, grouped: false, inflateAmount: 0, order: 6 },
        ],
      },
      options: baseOptions({
        x: xScale(true),
        y: yScale('logarithmic', P_MIN, P_MAX, priceTicks, (v) => Number(v).toFixed(5)),
      }),
      plugins: [mainDecor, axisPlugin('axMain', priceMajor, minorPrice, true)],
    });

    const macd = new Chart(macdRef.current, {
      type: 'bar',
      data: {
        datasets: [
          lineDs(macdLine.map((v, k) => ({ x: k, y: v })), '#000000', 2, 1),
          lineDs(signalLine.map((v, k) => ({ x: k, y: v })), '#b01515', 1.2, 2),
          { type: 'bar', data: macdHist.map((v, k) => ({ x: k, y: v })), backgroundColor: '#6a9bc9', barThickness: 5, grouped: false, inflateAmount: 0, order: 3 },
        ],
      },
      options: baseOptions({
        x: xScale(false),
        y: yScale('linear', MACD_MIN, MACD_MAX, macdTicks, (v) => Number(v).toFixed(5)),
      }),
      plugins: [macdDecor, axisPlugin('axMacd', [0.004, 0], [0.00667, 0.00533, 0.00267, 0.00133, -0.00133, -0.00267], false)],
    });

    const volColor = volume.map((_, k) => {
      const d = volumeStartDay + k;
      return close[d] >= open[d] ? '#22aa22' : '#cc0000';
    });
    const vol = new Chart(volRef.current, {
      type: 'bar',
      data: {
        datasets: [
          {
            type: 'line',
            data: volumeAvg.map((v, k) => ({ x: volumeStartDay + k, y: v })),
            borderColor: '#f07020',
            borderWidth: 1.5,
            backgroundColor: 'rgba(240,120,40,0.33)',
            fill: 'origin',
            pointRadius: 0,
            tension: 0,
            order: 1,
          },
          { type: 'bar', data: volume.map((v, k) => ({ x: volumeStartDay + k, y: v })), backgroundColor: volColor, barThickness: 6, grouped: false, inflateAmount: 0, order: 2 },
        ],
      },
      options: baseOptions({
        x: xScale(false),
        y: yScale('linear', VOL_MIN, VOL_MAX, volTicks, (v) => (Number(v) / 1000).toFixed(1) + 'K'),
      }),
      plugins: [volDecor, axisPlugin('axVol', volTicks, volMinorTicks, false)],
    });

    return () => {
      main.destroy();
      macd.destroy();
      vol.destroy();
    };
  }, []);

  const abs = (s) => ({ position: 'absolute', ...s });
  return (
    <div style={{ position: 'absolute', left: 0, top: 0, width: 1541, height: 851, background: '#fff', overflow: 'hidden', fontFamily: FONT }}>
      <canvas ref={mainRef} width={1541} height={671} style={abs({ left: 0, top: 0, width: 1541, height: 671 })} />
      <canvas ref={macdRef} width={1541} height={87} style={abs({ left: 0, top: 671, width: 1541, height: 87 })} />
      <canvas ref={volRef} width={1541} height={91} style={abs({ left: 0, top: 760, width: 1541, height: 91 })} />
      <div style={abs({ left: 0, top: 668, width: 1541, height: 3, background: '#7d7d7d' })} />
      <div style={abs({ left: 0, top: 758, width: 1541, height: 2, background: '#7d7d7d' })} />
      <div style={abs({ left: 1540, top: 0, width: 1, height: 851, background: '#222' })} />
      <div style={abs({ left: 7, top: 4, font: `bold 13px ${FONT}`, color: '#222', whiteSpace: 'nowrap' })}>NZD/USD (Daily) - 1 day</div>
      <div style={abs({ left: 164, top: 2, width: 34, height: 15, background: '#1d4f9e', borderRadius: 4, color: '#fff', font: `bold 12px ${FONT}`, textAlign: 'center', lineHeight: '15px' })}>Buy</div>
      <div style={abs({ left: 205, top: 2, width: 34, height: 15, background: '#cc0000', borderRadius: 4, color: '#fff', font: `bold 12px ${FONT}`, textAlign: 'center', lineHeight: '15px' })}>Sell</div>
      {[['S:23.8', 247], ['R:0.00238', 284], ['PC:1.00', 341], ['RS:0.00', 387], ['RB:0.00', 433]].map(([t, x]) => (
        <div key={t} style={abs({ left: x, top: 3, font: `bold 11px ${FONT}`, color: '#333', whiteSpace: 'nowrap' })}>{t}</div>
      ))}
      <div style={abs({ left: 4, top: 619, font: `bold 10px ${FONT}`, color: '#222' })}>PL:</div>
      <div style={abs({ left: 7, top: 674, font: `12px ${FONT}`, color: '#333', whiteSpace: 'nowrap' })}>MACD(C,EMA,13,21,8)</div>
      <div style={abs({ left: 7, top: 765, font: `12px ${FONT}`, color: '#333' })}>Volume</div>
      <div style={abs({ left: 1457, top: 836, font: `11px ${FONT}`, color: '#7a7a7a', whiteSpace: 'nowrap' })}>motivewave.com</div>
    </div>
  );
}
